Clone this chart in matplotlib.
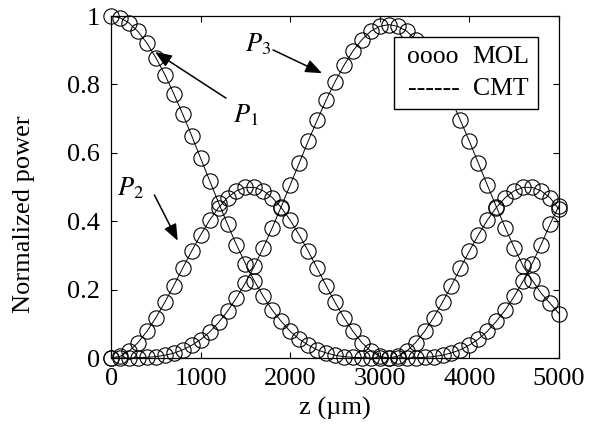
import numpy as np
import matplotlib
matplotlib.use("Agg")
import matplotlib.pyplot as plt
from matplotlib.patches import Rectangle

plt.rcParams["font.family"] = ["Liberation Serif", "DejaVu Serif"]
plt.rcParams["mathtext.fontset"] = "stix"

# propagation distance (um), one sample every 100 um
z = np.arange(0, 5001, 100)

p1 = [1.000, 0.995, 0.980, 0.955, 0.921, 0.878, 0.829, 0.773, 0.713, 0.650,
      0.584, 0.519, 0.454, 0.391, 0.331, 0.276, 0.225, 0.180, 0.140, 0.107,
      0.078, 0.055, 0.038, 0.024, 0.015, 0.008, 0.004, 0.002, 0.001, 0.000,
      0.000, 0.000, 0.000, 0.000, 0.001, 0.002, 0.004, 0.008, 0.015, 0.024,
      0.038, 0.055, 0.078, 0.107, 0.140, 0.180, 0.225, 0.276, 0.331, 0.391,
      0.445]
p2 = [0.000, 0.005, 0.020, 0.045, 0.078, 0.118, 0.163, 0.212, 0.263, 0.313,
      0.360, 0.403, 0.440, 0.469, 0.489, 0.499, 0.499, 0.489, 0.469, 0.440,
      0.403, 0.360, 0.313, 0.263, 0.212, 0.163, 0.118, 0.078, 0.045, 0.020,
      0.005, 0.000, 0.005, 0.020, 0.045, 0.078, 0.118, 0.163, 0.212, 0.263,
      0.313, 0.360, 0.403, 0.440, 0.469, 0.489, 0.499, 0.499, 0.489, 0.469,
      0.435]
p3 = [0.000, 0.000, 0.000, 0.001, 0.002, 0.004, 0.008, 0.014, 0.024, 0.037,
      0.054, 0.076, 0.104, 0.137, 0.176, 0.220, 0.269, 0.323, 0.381, 0.443,
      0.506, 0.570, 0.634, 0.695, 0.754, 0.808, 0.856, 0.898, 0.931, 0.956,
      0.970, 0.975, 0.970, 0.956, 0.931, 0.898, 0.856, 0.808, 0.754, 0.695,
      0.634, 0.570, 0.506, 0.443, 0.381, 0.323, 0.269, 0.228, 0.190, 0.160,
      0.130]

xticks = [0, 1000, 2000, 3000, 4000, 5000]
yticks = [0, 0.2, 0.4, 0.6, 0.8, 1]
ytick_labels = ["0", "0.2", "0.4", "0.6", "0.8", "1"]

fig = plt.figure(figsize=(5.94, 4.29), dpi=100)
ax = fig.add_axes([0.187, 0.1655, 0.754, 0.797])

for p in (p1, p2, p3):
    ax.plot(z, p, "-", color="k", lw=0.7)
    ax.plot(z, p, "o", mfc="none", mec="k", ms=11, mew=0.8, clip_on=False)

ax.set_xlim(0, 5000)
ax.set_ylim(0, 1)
ax.set_xticks(xticks)
ax.set_yticks(yticks)
ax.set_yticklabels(ytick_labels)
ax.tick_params(direction="in", top=True, right=True, length=4, width=0.8,
               labelsize=19)
ax.tick_params(axis="x", pad=7)
ax.tick_params(axis="y", pad=8)
for s in ax.spines.values():
    s.set_linewidth(0.9)

ax.set_xlabel("z (\u00b5m)", fontsize=19)
ax.set_ylabel("Normalized power", fontsize=19)
ax.xaxis.set_label_coords(0.5, -0.114)
ax.yaxis.set_label_coords(-0.170, 0.42)

# curve labels and arrows
arrow = dict(arrowstyle="-|>,head_length=1.0,head_width=0.4", color="k",
             lw=1.1, mutation_scale=10, shrinkA=0, shrinkB=0)
ax.text(1641, 0.918, r"$P_3$", fontsize=19, ha="center", va="center")
ax.annotate("", xy=(2355, 0.833), xytext=(1808, 0.901), arrowprops=arrow)
ax.text(1507, 0.711, r"$P_1$", fontsize=19, ha="center", va="center")
ax.annotate("", xy=(491, 0.895), xytext=(1283, 0.760), arrowprops=arrow)
ax.text(212, 0.497, r"$P_2$", fontsize=19, ha="center", va="center")
ax.annotate("", xy=(744, 0.343), xytext=(483, 0.477), arrowprops=arrow)

# legend box drawn by hand
box = Rectangle((0.632, 0.727), 0.322, 0.211, transform=ax.transAxes,
                facecolor="white", edgecolor="k", lw=1.0, zorder=5)
ax.add_patch(box)
ax.text(0.660, 0.862, "oooo", transform=ax.transAxes, fontsize=18.5,
        va="baseline", zorder=6)
ax.text(0.807, 0.862, "MOL", transform=ax.transAxes, fontsize=18.5,
        va="baseline", zorder=6)
ax.text(0.663, 0.769, "------", transform=ax.transAxes, fontsize=18.5,
        va="baseline", zorder=6)
ax.text(0.807, 0.769, "CMT", transform=ax.transAxes, fontsize=18.5,
        va="baseline", zorder=6)

fig.savefig("out.png", dpi=100)
